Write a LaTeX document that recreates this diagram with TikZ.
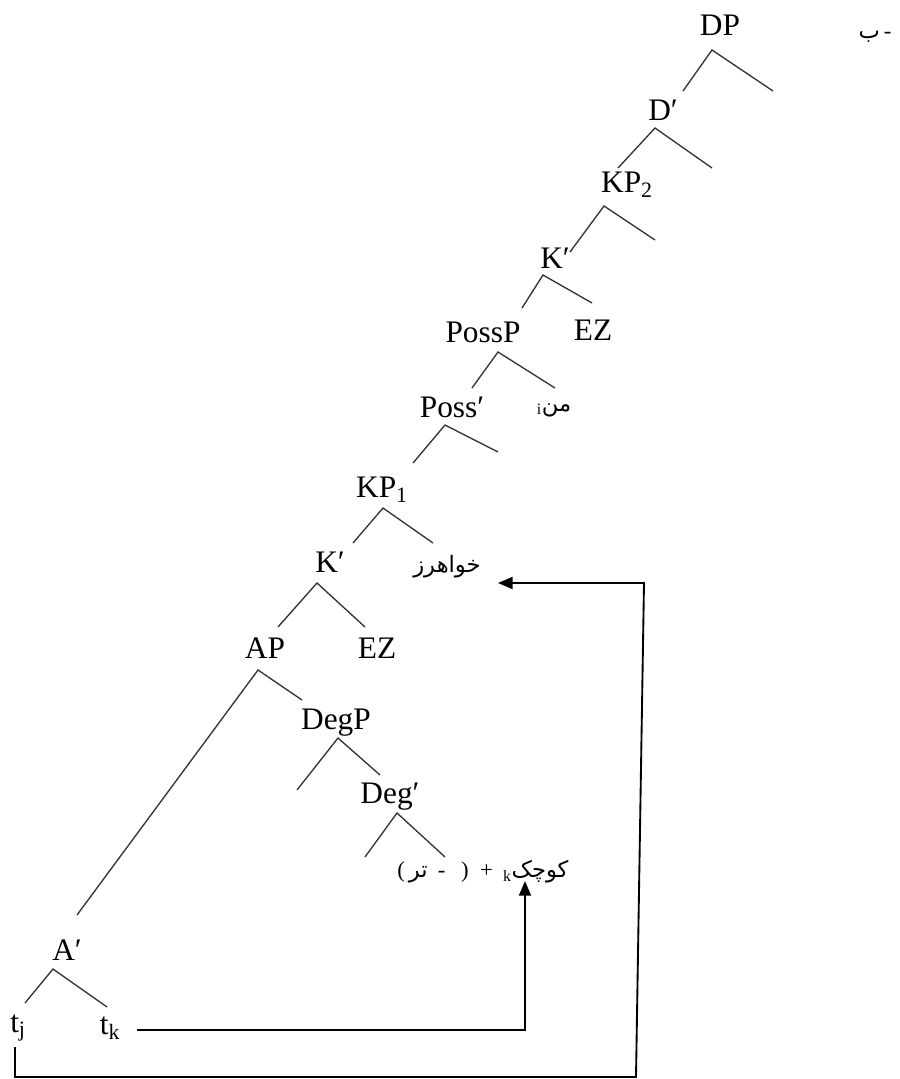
\documentclass[tikz,border=0pt]{standalone}
\usepackage{fontspec}
\setmainfont{Liberation Serif}
\newfontfamily\arabicfont[Script=Arabic]{DejaVu Sans}
\TeXXeTstate=1
\usetikzlibrary{arrows.meta}
\begin{document}
\begin{tikzpicture}[x=0.75pt,y=-0.75pt,
  lbl/.style={font=\fontsize{23.5}{28}\selectfont, inner sep=0pt},
  ar/.style={font=\fontsize{17}{20}\selectfont, inner sep=0pt},
  br/.style={line width=1pt, draw=black!80},
  link/.style={line width=1.4pt, draw=black, -{Triangle[length=11pt,width=9pt]}}]
\useasboundingbox (0,0) rectangle (900,1079);
% labels
\node[lbl] (dp) at (720,25) {DP};
\node[ar] (ba) at (875,37) {{\arabicfont ب}\,-};
\node[lbl] (dbar) at (663,110) {D′};
\node[lbl] (kp2) at (627,185) {KP\textsubscript{2}};
\node[lbl] (kbar2) at (555,258) {K′};
\node[lbl] (possp) at (483,332) {PossP};
\node[lbl] (ez2) at (593,330) {EZ};
\node[lbl] (possbar) at (452,407) {Poss′};
\node[ar] (man) at (554,410) {\textsubscript{i}{\arabicfont من}};
\node[lbl] (kp1) at (382,490) {KP\textsubscript{1}};
\node[lbl] (kbar1) at (330,562) {K′};
\node[ar] (khw) at (447,567) {{\arabicfont خواهرز}};
\node[lbl] (ap) at (265,648) {AP};
\node[lbl] (ez1) at (377,648) {EZ};
\node[lbl] (degp) at (336,723) {DegP};
\node[lbl] (degbar) at (390,797) {Deg′};
\node[ar] (koo) at (483,872) {(\,{\arabicfont تر}\hspace{.45em}-\hspace{.7em})\hspace{.5em}+\hspace{.45em}\textsubscript{k}{\arabicfont کوچک}};
\node[lbl] (abar) at (67,950) {A′};
\node[lbl] (tj) at (18,1028) {t\textsubscript{j}};
\node[lbl] (tk) at (110,1028) {t\textsubscript{k}};
% branch points
\coordinate (dpA) at (712,50);  \coordinate (dpL) at (683,91);  \coordinate (dpR) at (773,91);
\coordinate (dbA) at (655,128); \coordinate (dbL) at (618,168); \coordinate (dbR) at (712,168);
\coordinate (k2A) at (604,206); \coordinate (k2L) at (570,252); \coordinate (k2R) at (655,240);
\coordinate (kb2A) at (543,275); \coordinate (kb2L) at (522,308); \coordinate (kb2R) at (592,303);
\coordinate (ppA) at (498,352); \coordinate (ppL) at (472,388); \coordinate (ppR) at (555,388);
\coordinate (pbA) at (445,425); \coordinate (pbL) at (413,463); \coordinate (pbR) at (498,452);
\coordinate (k1A) at (383,508); \coordinate (k1L) at (353,543); \coordinate (k1R) at (433,543);
\coordinate (kb1A) at (317,583); \coordinate (kb1L) at (278,627); \coordinate (kb1R) at (365,627);
\coordinate (apA) at (258,670); \coordinate (apL) at (77,915);  \coordinate (apR) at (302,700);
\coordinate (dgA) at (338,738); \coordinate (dgL) at (297,790); \coordinate (dgR) at (380,775);
\coordinate (dbgA) at (397,813); \coordinate (dbgL) at (365,857); \coordinate (dbgR) at (445,857);
\coordinate (abA) at (53,969);  \coordinate (abL) at (25,1003); \coordinate (abR) at (107,1007);
% branches
\foreach \n in {dp,db,k2,kb2,pp,pb,k1,kb1,ap,dg,dbg,ab}
  \draw[br] (\n L) -- (\n A) -- (\n R);
% movement arrows
\coordinate (m1) at (525,1030);
\coordinate (m2) at (15,1077);
\coordinate (m3) at (636,1077);
\coordinate (m4) at (644,583);
\coordinate (m5) at (498,583);
\draw[link] (137,1030) -- (m1) -- (525,881);
\draw[link] (15,1047) -- (m2) -- (m3) -- (m4) -- (m5);
\end{tikzpicture}
\end{document}
